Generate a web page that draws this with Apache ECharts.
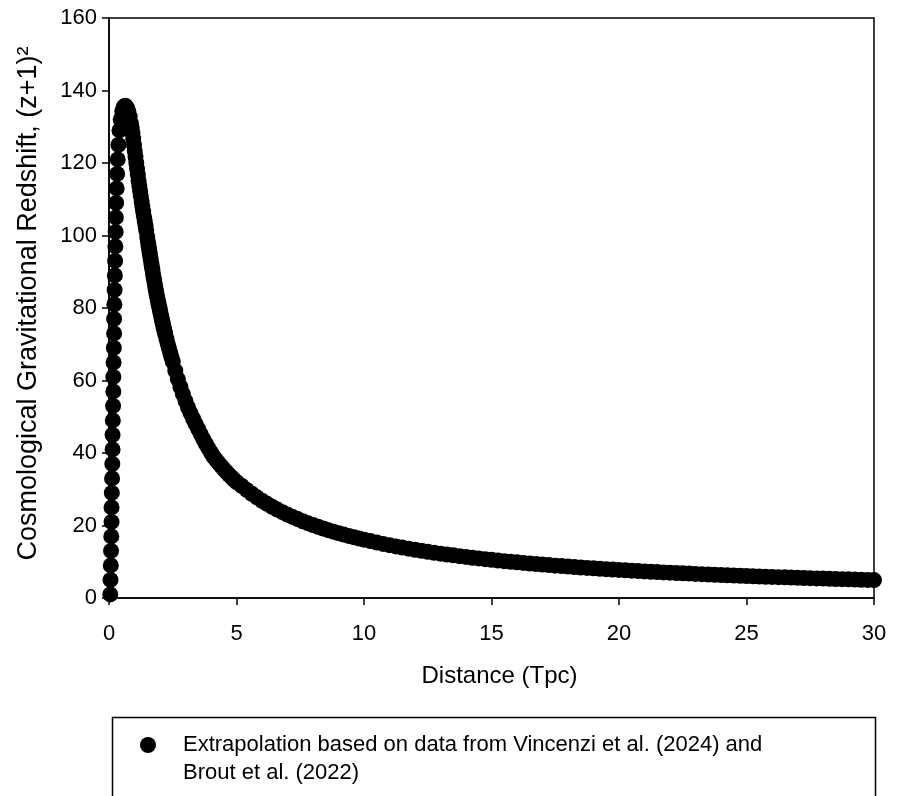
<!DOCTYPE html>
<html>
<head>
    <meta charset="utf-8">
    <title>index</title>
    <style>
        html, body { margin: 0; padding: 0; background: #fff; }
    </style>
</head>
<body>
    <div id="main" style="width: 899px;height:796px;"></div>
    <script src="https://cdn.jsdelivr.net/npm/echarts@6/dist/echarts.min.js"></script>
    <script>
        // rising column and peak
        var riseDist = [0.05, 0.06, 0.07, 0.08, 0.09, 0.10, 0.10, 0.11, 0.12, 0.13, 0.14, 0.14, 0.15, 0.16, 0.17, 0.17, 0.18, 0.19, 0.20, 0.20,
            0.21, 0.22, 0.23, 0.24, 0.25, 0.26, 0.27, 0.28, 0.30, 0.32, 0.34, 0.37, 0.41, 0.46, 0.52, 0.58, 0.64, 0.70, 0.76, 0.81];
        var riseZ = [1, 5, 9, 13, 17, 21, 25, 29, 33, 37, 41, 45, 49, 53, 57, 61, 65, 69, 73, 77,
            81, 85, 89, 93, 97, 101, 105, 109, 113, 117, 121, 125, 129, 132, 134.3, 135.5, 135.8, 135.3, 134.2, 132.8];
        // steep fall
        var fallDist = [0.86, 0.89, 0.92, 0.95, 0.98, 1.01, 1.04, 1.07, 1.10, 1.13, 1.16, 1.19, 1.22, 1.25, 1.28, 1.31, 1.34, 1.37, 1.40, 1.43, 1.46,
            1.50, 1.525, 1.55, 1.575, 1.60, 1.625, 1.65, 1.675, 1.70, 1.725, 1.75, 1.775, 1.80, 1.825, 1.85, 1.875, 1.90, 1.925, 1.95, 1.975,
            2.00, 2.025, 2.05, 2.075, 2.10, 2.125, 2.15, 2.175, 2.20, 2.25, 2.30, 2.35, 2.40, 2.45];
        var fallZ = [131.0, 129.7, 128.3, 126.7, 125.0, 123.3, 121.7, 120.0, 118.4, 116.8, 115.2, 113.7, 112.2, 110.8, 109.3, 107.9, 106.6, 105.3, 104.0, 102.7, 101.4,
            99.6, 98.4, 97.2, 96.1, 95.0, 93.85, 92.73, 91.65, 90.59, 89.52, 88.46, 87.42, 86.39, 85.40, 84.43, 83.52, 82.63, 81.77, 80.92, 80.08,
            79.25, 78.40, 77.56, 76.75, 75.95, 75.18, 74.42, 73.68, 72.95, 71.56, 70.22, 68.89, 67.63, 66.41];
        // knee
        var kneeDist = [2.5, 2.6, 2.7, 2.8, 2.9, 3.0, 3.1, 3.2, 3.3, 3.4, 3.5, 3.6, 3.7, 3.8, 3.9, 4.0, 4.1, 4.2, 4.3, 4.4, 4.5, 4.6, 4.7, 4.8, 4.9,
            5.0, 5.2, 5.4, 5.6, 5.8, 6.0, 6.2, 6.4, 6.6, 6.8, 7.0, 7.2, 7.4, 7.6, 7.8, 8.0, 8.2, 8.4, 8.6, 8.8, 9.0, 9.2, 9.4, 9.6, 9.8];
        var kneeZ = [65.2, 62.69, 60.37, 58.21, 56.21, 54.33, 52.58, 50.94, 49.39, 47.94, 46.57, 45.14, 43.78, 42.50, 41.28, 40.13, 39.02, 38.10, 37.21, 36.36, 35.56, 34.78, 34.04, 33.33, 32.65,
            32.0, 30.96, 29.81, 28.75, 27.76, 26.83, 25.97, 25.16, 24.39, 23.68, 23.00, 22.36, 21.76, 21.18, 20.64, 20.13, 19.63, 19.17, 18.72, 18.30, 17.89, 17.50, 17.13, 16.77, 16.43];
        // long tail
        var tailDist = [10, 10.25, 10.5, 10.75, 11, 11.25, 11.5, 11.75, 12, 12.25, 12.5, 12.75, 13, 13.25, 13.5, 13.75, 14, 14.25, 14.5, 14.75,
            15, 15.25, 15.5, 15.75, 16, 16.25, 16.5, 16.75, 17, 17.25, 17.5, 17.75, 18, 18.25, 18.5, 18.75, 19, 19.25, 19.5, 19.75,
            20, 20.25, 20.5, 20.75, 21, 21.25, 21.5, 21.75, 22, 22.25, 22.5, 22.75, 23, 23.25, 23.5, 23.75, 24, 24.25, 24.5, 24.75,
            25, 25.25, 25.5, 25.75, 26, 26.25, 26.5, 26.75, 27, 27.25, 27.5, 27.75, 28, 28.25, 28.5, 28.75, 29, 29.25, 29.5, 29.75, 30];
        var tailZ = [16.10, 15.69, 15.30, 14.93, 14.58, 14.24, 13.92, 13.61, 13.31, 13.03, 12.76, 12.49, 12.24, 12.00, 11.76, 11.54, 11.32, 11.11, 10.91, 10.71,
            10.53, 10.34, 10.17, 9.99, 9.83, 9.67, 9.51, 9.36, 9.21, 9.07, 8.93, 8.80, 8.67, 8.54, 8.42, 8.29, 8.18, 8.06, 7.95, 7.84,
            7.74, 7.63, 7.53, 7.44, 7.34, 7.25, 7.15, 7.06, 6.98, 6.89, 6.81, 6.73, 6.65, 6.57, 6.49, 6.42, 6.34, 6.27, 6.20, 6.13,
            6.07, 6.00, 5.93, 5.87, 5.81, 5.75, 5.69, 5.63, 5.57, 5.51, 5.46, 5.40, 5.35, 5.30, 5.24, 5.19, 5.14, 5.09, 5.04, 5.00, 4.95];

        var seriesName = 'Extrapolation based on data from Vincenzi et al. (2024) and\nBrout et al. (2022)';

        var dist = riseDist.concat(fallDist, kneeDist, tailDist);
        var zz = riseZ.concat(fallZ, kneeZ, tailZ);
        var points = [];
        for (var i = 0; i < dist.length; i++) {
            points.push([dist[i], zz[i]]);
        }

        var font = 'Liberation Sans, Arial, sans-serif';
        var myChart = echarts.init(document.getElementById('main'));
        var option = {
            backgroundColor: '#fff',
            animation: false,
            grid: {
                left: 109,
                right: 25,
                top: 18,
                bottom: 198,
                show: true,
                borderColor: '#000',
                borderWidth: 1.5,
                containLabel: false
            },
            xAxis: {
                type: 'value',
                min: 0,
                max: 30,
                interval: 5,
                name: 'Distance (Tpc)',
                nameLocation: 'middle',
                nameGap: 66,
                nameTextStyle: { fontFamily: font, fontSize: 24, color: '#000', padding: [0, 0, 0, 16] },
                axisLine: { show: true, onZero: false, lineStyle: { color: '#000', width: 1.5 } },
                axisTick: { show: true, length: 7, lineStyle: { color: '#000', width: 1.5 } },
                axisLabel: { fontFamily: font, fontSize: 22, color: '#000', margin: 25 },
                splitLine: { show: false }
            },
            yAxis: {
                type: 'value',
                min: 0,
                max: 160,
                interval: 20,
                name: 'Cosmological Gravitational Redshift, (z+1)²',
                nameLocation: 'middle',
                nameGap: 67,
                nameTextStyle: { fontFamily: font, fontSize: 27, color: '#000', padding: [0, 0, 0, 9] },
                axisLine: { show: true, onZero: false, lineStyle: { color: '#000', width: 1.5 } },
                axisTick: { show: true, length: 7, lineStyle: { color: '#000', width: 1.5 } },
                axisLabel: { fontFamily: font, fontSize: 22, color: '#000', margin: 12 },
                splitLine: { show: false }
            },
            legend: {
                left: 140,
                top: 703,
                padding: 0,
                itemWidth: 16,
                itemHeight: 16,
                itemGap: 0,
                icon: 'circle',
                selectedMode: false,
                formatter: function (name) {
                    // blank first line so the first text line sits level with the dot
                    return '\n' + name;
                },
                textStyle: {
                    fontFamily: font,
                    fontSize: 22,
                    color: '#000',
                    lineHeight: 28,
                    padding: [0, 0, 0, 22]
                },
                data: [seriesName]
            },
            graphic: [{
                type: 'rect',
                left: 110,
                top: 715,
                shape: { width: 763, height: 100 },
                style: { fill: 'none', stroke: '#000', lineWidth: 1.5 },
                silent: true
            }],
            series: [{
                name: seriesName,
                type: 'scatter',
                data: points,
                symbol: 'circle',
                symbolSize: 16,
                itemStyle: { color: '#000', opacity: 1 },
                clip: false
            }]
        };
        myChart.setOption(option);
    </script>
</body>
</html>
